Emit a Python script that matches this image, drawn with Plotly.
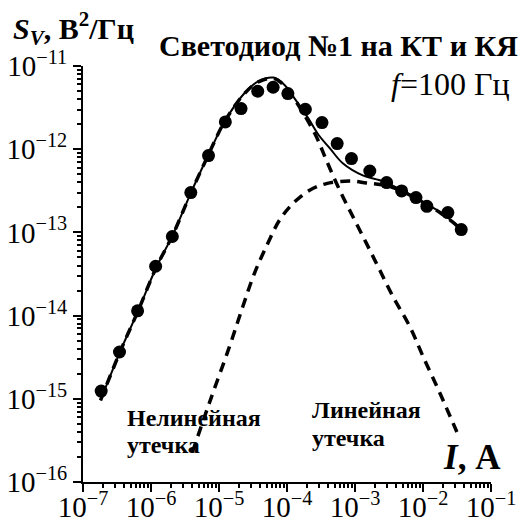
import plotly.graph_objects as go

# Measured points (current I in A, noise S_V in V^2/Hz)
dots_I = [1.85e-7, 3.44e-7, 6.35e-7, 1.17e-6, 2.06e-6, 3.85e-6, 7.01e-6, 1.24e-5,
          2.11e-5, 3.71e-5, 6.25e-5, 1.03e-4, 1.86e-4, 3.27e-4, 5.47e-4, 8.87e-4,
          1.65e-3, 2.92e-3, 4.85e-3, 7.89e-3, 1.14e-2, 2.32e-2, 3.65e-2]
dots_S = [1.24e-15, 3.65e-15, 1.14e-14, 3.92e-14, 8.93e-14, 3.01e-13, 8.39e-13, 2.13e-12,
          3.08e-12, 4.97e-12, 5.55e-12, 4.66e-12, 3.02e-12, 2.09e-12, 1.17e-12, 7.71e-13,
          5.47e-13, 3.97e-13, 3.15e-13, 2.62e-13, 2.06e-13, 1.73e-13, 1.08e-13]

# Total (solid) curve
total_I = [1.81e-7, 3.48e-7, 6.43e-7, 1.18e-6, 2.11e-6, 3.89e-6, 6.93e-6, 1.19e-5,
           2.36e-5, 3.79e-5, 6.32e-5, 9.19e-5, 1.29e-4, 2.06e-4, 2.92e-4, 4.25e-4,
           6.61e-4, 1.30e-3, 2.32e-3, 4.58e-3, 9.05e-3, 1.79e-2, 3.18e-2]
total_S = [9.6e-16, 3.62e-15, 1.13e-14, 3.71e-14, 9.48e-14, 3.03e-13, 8.45e-13, 2.10e-12,
           4.70e-12, 6.55e-12, 7.26e-12, 5.91e-12, 4.09e-12, 2.35e-12, 1.48e-12, 1.03e-12,
           6.78e-13, 4.85e-13, 4.23e-13, 3.30e-13, 2.43e-13, 1.75e-13, 1.22e-13]

# Nonlinear leakage component (dashed)
nonlin_I = [1.81e-7, 3.48e-7, 6.43e-7, 1.18e-6, 2.11e-6, 3.89e-6, 6.93e-6, 1.19e-5,
            2.36e-5, 3.79e-5, 6.32e-5, 9.19e-5, 1.29e-4, 2.64e-4, 3.79e-4, 5.96e-4,
            9.37e-4, 1.48e-3, 2.32e-3, 3.65e-3, 6.44e-3, 1.01e-2, 1.79e-2, 3.15e-2]
nonlin_S = [9.6e-16, 3.62e-15, 1.13e-14, 3.71e-14, 9.48e-14, 3.03e-13, 8.45e-13, 2.10e-12,
            4.65e-12, 6.45e-12, 7.1e-12, 5.8e-12, 4.0e-12, 1.47e-12, 7.36e-13, 3.21e-13,
            1.53e-13, 7.33e-14, 3.50e-14, 1.67e-14, 7.30e-15, 3.18e-15, 1.15e-15, 3.99e-16]

# Linear leakage component (dashed)
lin_I = [4.06e-6, 7.18e-6, 1.42e-5, 2.23e-5, 3.31e-5, 4.93e-5, 7.75e-5, 1.22e-4,
         2.15e-4, 3.79e-4, 8.38e-4, 1.48e-3, 2.75e-3, 4.58e-3, 9.05e-3, 1.79e-2, 3.18e-2]
lin_S = [2.28e-16, 8.83e-16, 4.20e-15, 1.27e-14, 3.20e-14, 6.68e-14, 1.40e-13, 2.22e-13,
         3.21e-13, 3.86e-13, 4.15e-13, 3.93e-13, 3.68e-13, 3.21e-13, 2.40e-13, 1.72e-13, 1.20e-13]

x_tickvals = [1e-7, 1e-6, 1e-5, 1e-4, 1e-3, 1e-2, 1e-1]
x_ticktext = ["10<sup>\u22127</sup>", "10<sup>\u22126</sup>", "10<sup>\u22125</sup>",
              "10<sup>\u22124</sup>", "10<sup>\u22123</sup>", "10<sup>\u22122</sup>",
              "10<sup>\u22121</sup>"]
y_tickvals = [1e-16, 1e-15, 1e-14, 1e-13, 1e-12, 1e-11]
y_ticktext = ["10<sup>\u221216</sup>", "10<sup>\u221215</sup>", "10<sup>\u221214</sup>",
              "10<sup>\u221213</sup>", "10<sup>\u221212</sup>", "10<sup>\u221211</sup>"]

FONT = "Liberation Serif"

fig = go.Figure()
fig.add_trace(go.Scatter(x=nonlin_I, y=nonlin_S, mode="lines", line_shape="spline",
                         line=dict(color="black", width=3.5, dash="10px,7px"), showlegend=False))
fig.add_trace(go.Scatter(x=lin_I, y=lin_S, mode="lines", line_shape="spline",
                         line=dict(color="black", width=3.5, dash="10px,7px"), showlegend=False))
fig.add_trace(go.Scatter(x=total_I, y=total_S, mode="lines", line_shape="spline",
                         line=dict(color="black", width=2), showlegend=False))
fig.add_trace(go.Scatter(x=dots_I, y=dots_S, mode="markers",
                         marker=dict(color="black", size=13), showlegend=False))

axis_common = dict(showline=True, linecolor="black", linewidth=2, ticks="outside",
                   ticklen=8, tickwidth=2, tickcolor="black", showgrid=False, zeroline=False,
                   automargin=False,
                   tickfont=dict(family=FONT, size=29, color="black"),
                   minor=dict(ticks="outside", ticklen=4, tickwidth=1.5, tickcolor="black",
                              dtick="D1", showgrid=False))

fig.update_xaxes(type="log", range=[-7, -1], tickvals=x_tickvals, ticktext=x_ticktext,
                 ticklabelstandoff=-10, **axis_common)
fig.update_yaxes(type="log", range=[-16, -11], tickvals=y_tickvals, ticktext=y_ticktext,
                 **axis_common)

# page body has an 8px margin, so the plot area (83..491, 66..482 on screen)
# is placed with margins reduced by 8
def px_x(p):
    return (p - 83) / 408

def px_y(p):
    return (482 - p) / 416

annotations = [
    dict(text="<b><i>S</i><sub><i>V</i></sub>, В<sup>2</sup>/Гц</b>", x=px_x(11), y=px_y(28),
         xanchor="left", yanchor="middle", font=dict(size=30)),
    dict(text="<b>Светодиод №1 на КТ и КЯ</b>", x=px_x(520), y=px_y(46),
         xanchor="right", yanchor="middle", font=dict(size=30)),
    dict(text="<i>f</i>=100 Гц", x=px_x(512), y=px_y(84),
         xanchor="right", yanchor="middle", font=dict(size=32)),
    dict(text="<b>Нелинейная</b>", x=px_x(125), y=px_y(418),
         xanchor="left", yanchor="middle", font=dict(size=24)),
    dict(text="<b>утечка</b>", x=px_x(125), y=px_y(445),
         xanchor="left", yanchor="middle", font=dict(size=24)),
    dict(text="<b>Линейная</b>", x=px_x(310), y=px_y(410),
         xanchor="left", yanchor="middle", font=dict(size=24)),
    dict(text="<b>утечка</b>", x=px_x(310), y=px_y(438),
         xanchor="left", yanchor="middle", font=dict(size=24)),
    dict(text="<b><i>I</i>, А</b>", x=px_x(503), y=px_y(457),
         xanchor="right", yanchor="middle", font=dict(size=35)),
]
for a in annotations:
    a.update(xref="paper", yref="paper", showarrow=False)
    a["font"].update(family=FONT, color="black")

fig.update_layout(width=518, height=516, margin=dict(l=75, r=35, t=58, b=42),
                  paper_bgcolor="white", plot_bgcolor="white",
                  annotations=annotations)

fig.write_html("out.html")
